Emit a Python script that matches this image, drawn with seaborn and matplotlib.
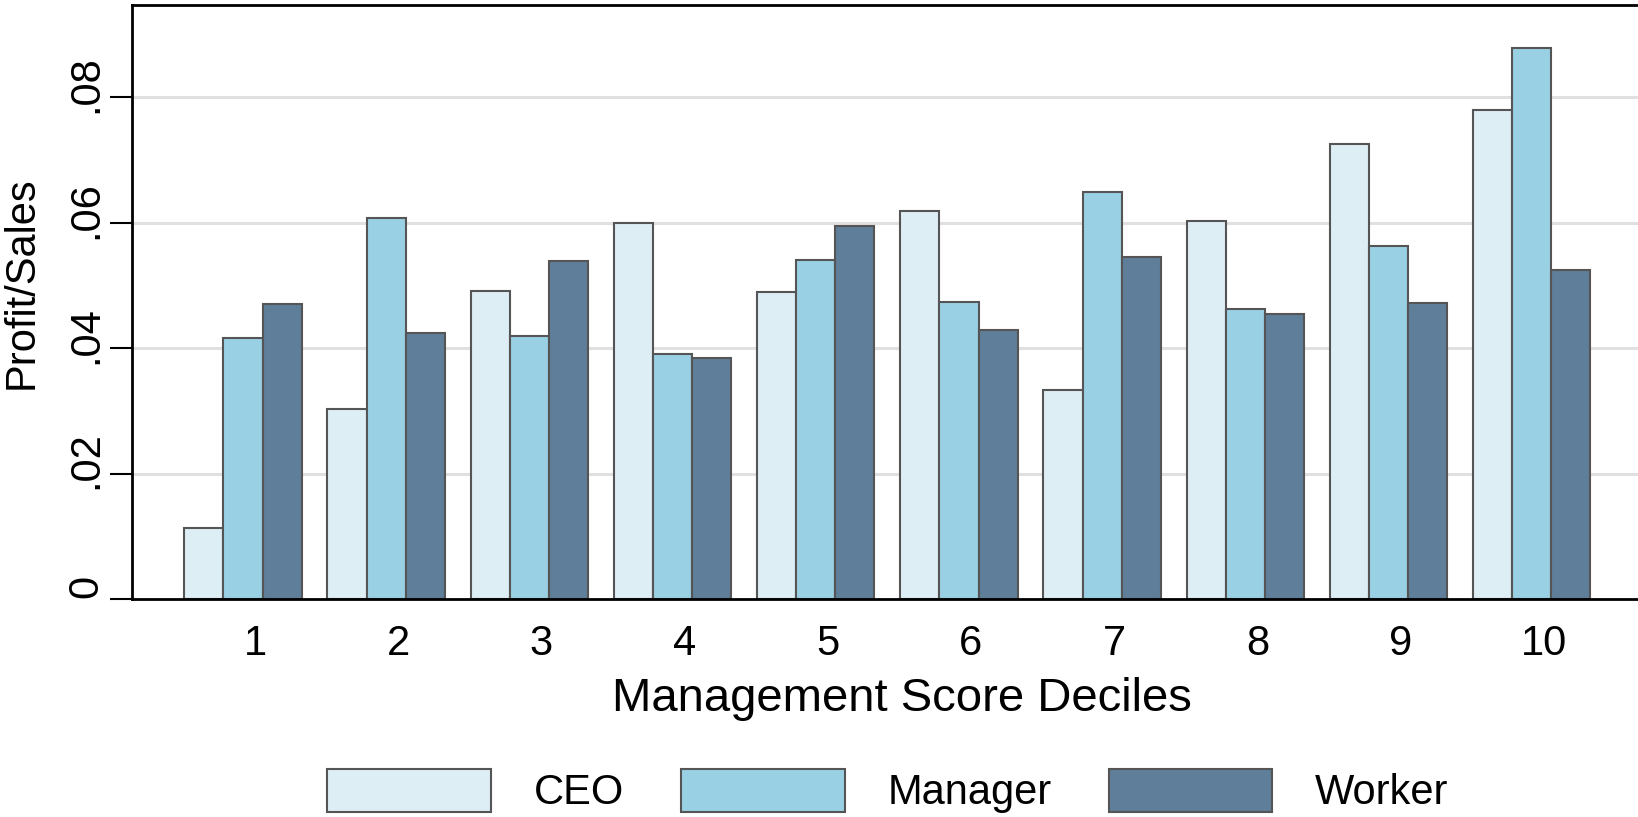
import pandas as pd
import matplotlib
matplotlib.use('Agg')
import matplotlib.pyplot as plt
import matplotlib.transforms as mtrans
import seaborn as sns

#--------------------------------------------------------
deciles=['1', '2', '3', '4', '5', '6', '7', '8', '9', '10']
groups=['CEO', 'Manager', 'Worker']
ceo=[0.0113, 0.0303, 0.0491, 0.0600, 0.0489, 0.0619, 0.0333, 0.0602, 0.0725, 0.0780]
manager=[0.0416, 0.0607, 0.0419, 0.0391, 0.0541, 0.0474, 0.0649, 0.0462, 0.0562, 0.0878]
worker=[0.0471, 0.0424, 0.0539, 0.0384, 0.0595, 0.0429, 0.0546, 0.0454, 0.0472, 0.0524]
yticks=[0, 0.02, 0.04, 0.06, 0.08]
ytick_labels=['0', '.02', '.04', '.06', '.08']

colors=['#deeef5', '#9ad0e3', '#5f7e99']
fs=30

#--------------------------------------------------------
df=pd.DataFrame({'decile': deciles*3,
                 'group': [g for g in groups for _ in deciles],
                 'value': ceo+manager+worker})

sns.set_theme(style='white')
plt.rcParams['font.family']=['Liberation Sans', 'DejaVu Sans']
plt.rcParams['text.color']='black'
plt.rcParams['xtick.color']='black'
plt.rcParams['ytick.color']='black'
plt.rcParams['axes.labelcolor']='black'

fig=plt.figure(figsize=(16.38, 8.17), dpi=100)
ax=fig.add_axes([132/1638, 218/817, 1-132/1638, 594/817])

sns.barplot(data=df, x='decile', y='value', hue='group', order=deciles, hue_order=groups,
            palette=colors, width=0.82, gap=0, edgecolor='#555555', linewidth=1.5,
            saturation=1, ax=ax)

#axes
ax.set_xlim(-0.775, 9.742)
ax.set_ylim(0, 0.0947)
ax.set_yticks(yticks)
ax.set_yticklabels(ytick_labels, fontsize=fs)
ax.set_xticks(range(len(deciles)))
ax.set_xticklabels(deciles, fontsize=fs)
ax.tick_params(axis='y', labelrotation=90, length=16, width=1.5, color='black', pad=2.5, left=True)
ax.tick_params(axis='x', length=0, pad=18)
for y in yticks[1:]:
	ax.axhline(y, color='#e0e0e0', lw=2.2, zorder=0)
ax.set_axisbelow(True)
for s in ['left', 'bottom', 'top']:
	ax.spines[s].set_color('black')
	ax.spines[s].set_linewidth(2)
ax.spines['right'].set_visible(False)

#nudge labels like the original
off_x=mtrans.ScaledTranslation(12/100, 0, fig.dpi_scale_trans)
for lab in ax.get_xticklabels():
	lab.set_transform(lab.get_transform()+off_x)
off_y=mtrans.ScaledTranslation(0, 13/100, fig.dpi_scale_trans)
for lab in ax.get_yticklabels():
	lab.set_transform(lab.get_transform()+off_y)
	lab.set_va('center')

ax.set_xlabel('')
ax.set_ylabel('')
fig.text(902/1638, 1-699/817, 'Management Score Deciles', fontsize=34, ha='center', va='center')
fig.text(22/1638, 1-283/817, 'Profit/Sales', fontsize=fs, ha='center', va='center', rotation=90)

#legend
handles, labels=ax.get_legend_handles_labels()
ax.get_legend().remove()
for h in handles:
	h.set_edgecolor('#555555')
	h.set_linewidth(1.5)
fig.legend(handles, labels, loc='center', bbox_to_anchor=(888/1638, 1-791/817), ncol=3,
           frameon=False, fontsize=fs, handlelength=3.93, handleheight=1.2,
           handletextpad=1.03, columnspacing=1.36, borderpad=0, borderaxespad=0)

fig.savefig('out.png', dpi=100)
plt.close()
